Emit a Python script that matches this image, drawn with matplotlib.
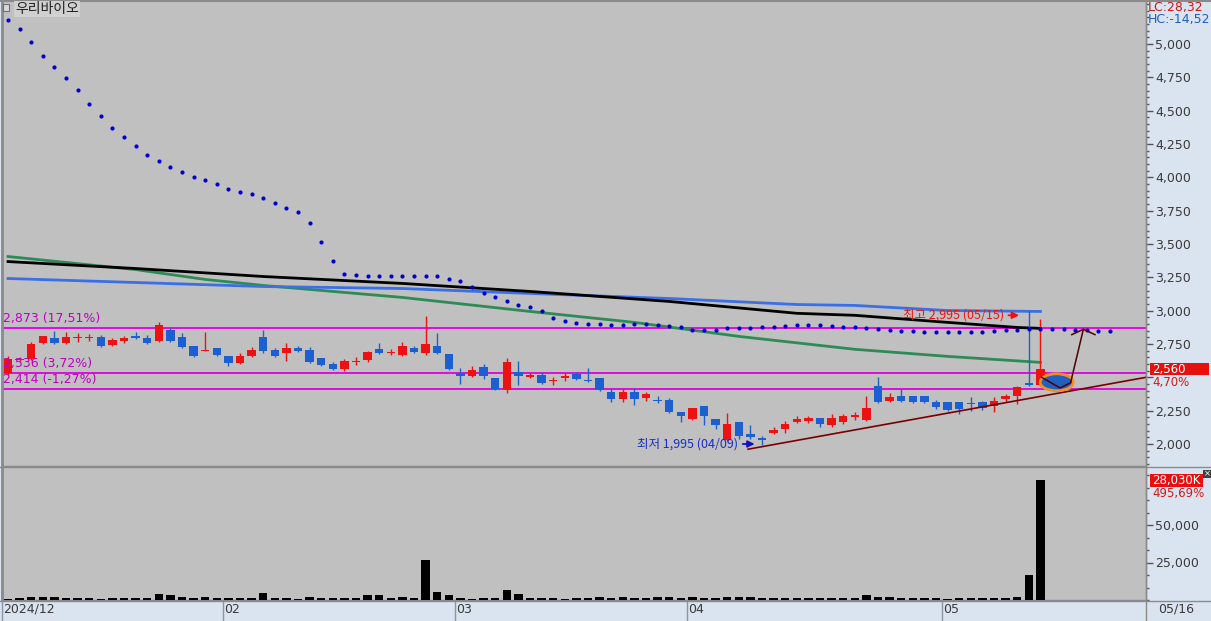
import matplotlib
matplotlib.use('Agg')
import matplotlib.pyplot as plt
import matplotlib.transforms as mtransforms
from matplotlib.patches import Rectangle, Ellipse
from matplotlib.ticker import MultipleLocator, FuncFormatter, FixedLocator
import numpy as np

# ---------------- data ----------------
title = '우리바이오'
month_labels = ['2024/12', '02', '03', '04', '05']
month_first_idx = [0, 19, 39, 59, 81]
last_date_label = '05/16'

opens = [2530, 2630, 2635, 2754, 2792, 2754, 2795, 2795, 2799, 2739,
         2769, 2807, 2792, 2769, 2852, 2799, 2732, 2700, 2717, 2657,
         2605, 2657, 2799, 2702, 2680, 2717, 2702, 2642, 2597, 2560,
         2617, 2627, 2710, 2685, 2665, 2717, 2680, 2732, 2672, 2530,
         2507, 2575, 2493, 2403, 2537, 2500, 2515, 2475, 2493, 2522,
         2478, 2493, 2388, 2335, 2388, 2343, 2330, 2328, 2238, 2186,
         2283, 2186, 2028, 2163, 2073, 2040, 2081, 2111, 2163, 2171,
         2193, 2141, 2163, 2201, 2178, 2433, 2320, 2358, 2358, 2358,
         2313, 2313, 2313, 2307, 2313, 2283, 2335, 2358, 2455, 2440]
highs = [2657, 2650, 2762, 2810, 2844, 2837, 2829, 2822, 2814, 2792,
         2807, 2837, 2814, 2912, 2867, 2829, 2735, 2837, 2720, 2660,
         2680, 2725, 2852, 2717, 2754, 2732, 2725, 2645, 2612, 2635,
         2650, 2695, 2754, 2710, 2762, 2732, 2957, 2829, 2675, 2567,
         2582, 2597, 2495, 2642, 2620, 2530, 2537, 2500, 2530, 2537,
         2567, 2495, 2418, 2410, 2418, 2388, 2358, 2343, 2240, 2272,
         2285, 2190, 2231, 2165, 2141, 2058, 2126, 2171, 2208, 2208,
         2198, 2223, 2223, 2238, 2358, 2500, 2380, 2410, 2362, 2362,
         2328, 2316, 2316, 2350, 2320, 2350, 2373, 2433, 2995, 2934]
lows = [2515, 2620, 2630, 2747, 2750, 2750, 2762, 2769, 2728, 2735,
        2754, 2784, 2747, 2762, 2762, 2720, 2655, 2700, 2660, 2582,
        2600, 2655, 2680, 2655, 2620, 2690, 2610, 2585, 2555, 2545,
        2590, 2612, 2672, 2665, 2660, 2685, 2665, 2675, 2555, 2448,
        2500, 2485, 2405, 2380, 2440, 2493, 2450, 2440, 2470, 2478,
        2465, 2395, 2313, 2313, 2290, 2320, 2305, 2235, 2163, 2180,
        2141, 2111, 2025, 2036, 2036, 1995, 2078, 2081, 2156, 2156,
        2126, 2126, 2148, 2178, 2175, 2310, 2313, 2315, 2310, 2308,
        2260, 2250, 2223, 2246, 2253, 2238, 2313, 2298, 2435, 2435]
closes = [2635, 2640, 2747, 2807, 2754, 2799, 2800, 2800, 2732, 2777,
          2792, 2792, 2754, 2889, 2769, 2725, 2657, 2705, 2665, 2605,
          2657, 2702, 2695, 2657, 2717, 2695, 2612, 2590, 2560, 2620,
          2622, 2687, 2680, 2690, 2732, 2687, 2747, 2680, 2560, 2507,
          2552, 2507, 2410, 2612, 2507, 2515, 2455, 2480, 2507, 2485,
          2470, 2403, 2335, 2388, 2335, 2373, 2325, 2238, 2208, 2268,
          2208, 2141, 2148, 2058, 2051, 2036, 2103, 2148, 2186, 2193,
          2148, 2193, 2208, 2216, 2268, 2313, 2350, 2320, 2313, 2313,
          2275, 2253, 2260, 2303, 2268, 2320, 2358, 2425, 2445, 2560]
volumes = [900, 1560, 2200, 2200, 2200, 1560, 1560, 1560, 900, 1100,
           1560, 1560, 1560, 3800, 3100, 2200, 1560, 2200, 1560, 1560,
           1560, 1560, 4400, 1560, 1560, 900, 2200, 1560, 1560, 1560,
           1560, 3100, 3300, 1560, 2200, 1560, 26500, 5300, 3100, 1560,
           900, 1560, 1560, 6700, 3800, 1560, 1560, 1560, 900, 1560,
           1560, 1800, 1100, 1800, 1100, 1100, 1800, 1800, 1100, 1800,
           1100, 1100, 1800, 1800, 1800, 1100, 1100, 1100, 1100, 1100,
           1100, 1100, 1100, 1100, 3300, 1800, 1800, 1100, 1100, 1100,
           1100, 700, 1100, 1100, 1100, 1100, 1100, 1800, 16400, 79800]

# parabolic-SAR style dots (extend 6 sessions past the last candle)
sar = [5180, 5112, 5015, 4910, 4828, 4746, 4656, 4551, 4461, 4371,
       4304, 4237, 4169, 4124, 4079, 4042, 4004, 3982, 3952, 3915,
       3892, 3877, 3847, 3810, 3772, 3743, 3660, 3518, 3376, 3278,
       3271, 3263, 3263, 3263, 3263, 3263, 3263, 3263, 3234, 3219,
       3174, 3136, 3106, 3069, 3046, 3024, 2994, 2942, 2919, 2904,
       2897, 2897, 2889, 2889, 2897, 2897, 2889, 2882, 2874, 2852,
       2852, 2852, 2867, 2867, 2867, 2874, 2874, 2882, 2889, 2889,
       2889, 2882, 2874, 2874, 2867, 2859, 2852, 2844, 2844, 2837,
       2837, 2837, 2837, 2837, 2837, 2844, 2852, 2852, 2859, 2859,
       2859, 2859, 2852, 2852, 2844, 2844]

# moving averages read at sample sessions
ma_black_idx = [0, 11, 22, 34, 45, 57, 68, 73, 81, 87, 89]
ma_black = [3368, 3316, 3256, 3204, 3144, 3069, 2980, 2965, 2912, 2874, 2867]
ma_blue_idx = [0, 11, 22, 34, 45, 57, 68, 73, 81, 89]
ma_blue = [3241, 3211, 3181, 3166, 3129, 3091, 3046, 3039, 3001, 2994]
ma_green_idx = [0, 11, 17, 22, 28, 34, 45, 54, 63, 73, 81, 89]
ma_green = [3406, 3308, 3234, 3189, 3144, 3099, 2994, 2912, 2807, 2710, 2657, 2612]

levels = [2873, 2536, 2414]
level_pct = ['17,51%', '3,72%', '-1,27%']

high_idx, high_val, high_date = 88, 2995, '05/15'
low_idx, low_val, low_date = 65, 1995, '04/09'

trend_x = [63.8, 98.1]
trend_y = [1961, 2500]

last_price_txt = '2,560'
last_pct_txt = '4,70%'
last_vol_txt = '28,030K'
last_vol_pct_txt = '495,69%'
lc_txt = 'LC:28,32'
hc_txt = 'HC:-14,52'

price_ticks = list(range(2000, 5001, 250))
price_ticks_hidden = [2500]   # covered by the last-price box in the reference

# ---------------- figure ----------------
W, H = 1211, 621
BG = '#c0c0c0'
AXBG = '#dae4f0'
RED = '#ee1111'
BLUE = '#1b5fd2'
KR = ['Noto Sans CJK KR', 'DejaVu Sans']

fig = plt.figure(figsize=(W / 100, H / 100), dpi=100, facecolor=AXBG)


def rect(x0, y0, x1, y1):
    return [x0 / W, 1 - y1 / H, (x1 - x0) / W, (y1 - y0) / H]


ax = fig.add_axes(rect(2, 1, 1146, 466), facecolor=BG)
axv = fig.add_axes(rect(2, 468, 1146, 600), facecolor=BG, sharex=ax)

n = len(closes)
idx = np.arange(n)
ax.set_xlim(-0.52, 98.1)
ax.set_ylim(1835, 5322)
axv.set_ylim(0, 88000)

for a in (ax, axv):
    for s in a.spines.values():
        s.set_color('#8a8a8a')
        s.set_linewidth(1)
    a.spines['top'].set_visible(False)
    a.spines['left'].set_linewidth(2)
    a.yaxis.tick_right()
    a.tick_params(axis='y', which='major', length=5, width=1, pad=1.5,
                  labelsize=9, colors='#555555', labelcolor='#3a3a3a')
    a.tick_params(axis='y', which='minor', length=2.5, width=1, colors='#555555')
    a.tick_params(axis='x', which='both', bottom=False, labelbottom=False)


def price_fmt(v, p):
    v = int(round(v))
    return '' if v in price_ticks_hidden else f'{v:,}'


ax.yaxis.set_major_locator(FixedLocator(price_ticks))
ax.yaxis.set_minor_locator(MultipleLocator(50))
ax.yaxis.set_major_formatter(FuncFormatter(price_fmt))
axv.yaxis.set_major_locator(FixedLocator([25000, 50000]))
axv.yaxis.set_minor_locator(MultipleLocator(25000 / 3))
axv.yaxis.set_major_formatter(FuncFormatter(lambda v, p: f'{int(round(v)):,}'))

# candles
for i in range(n):
    o, h, l, c = opens[i], highs[i], lows[i], closes[i]
    col = RED if c >= o else BLUE
    ax.vlines(i, l, h, color=col, lw=1, zorder=4)
    lo, hi = min(o, c), max(o, c)
    if hi - lo < 9:
        mid = (lo + hi) / 2
        lo, hi = mid - 4.5, mid + 4.5
    ax.add_patch(Rectangle((i - 0.36, lo), 0.72, hi - lo, facecolor=col,
                           edgecolor='none', zorder=5))

# moving averages
ax.plot(ma_green_idx, ma_green, color='#2e8b57', lw=2, zorder=3)
ax.plot(ma_blue_idx, ma_blue, color='#3a6fe8', lw=2, zorder=3)
ax.plot(ma_black_idx, ma_black, color='black', lw=2, zorder=3)

# SAR dots
ax.scatter(np.arange(len(sar)), sar, s=9, color='#0000cc', zorder=6, linewidths=0)

# horizontal levels
for v, pct in zip(levels, level_pct):
    ax.axhline(v, color='#e000e0', lw=1.3, zorder=2)
    ax.annotate(f'{v:,} ({pct})', xy=(-0.45, v), xytext=(0, 2),
                textcoords='offset points', va='bottom', ha='left',
                fontsize=9, color='#c000c0', zorder=7)

# trend line
ax.plot(trend_x, trend_y, color='#7a0000', lw=1.2, zorder=6)

# ellipse and zig-zag drawing
ax.add_patch(Ellipse((90.4, 2463), 2.85, 127, facecolor='#2060c0',
                     edgecolor='#f09020', lw=2, zorder=7))
ax.plot([89.1, 90.7, 91.6, 92.7, 93.7], [2500, 2420, 2460, 2860, 2820],
        color='#500000', lw=1.1, zorder=8)
ax.plot([91.7, 92.7], [2820, 2860], color='#500000', lw=1.1, zorder=8)

# high / low annotations
ax.annotate('', xy=(high_idx - 0.6, high_val - 30), xytext=(high_idx - 2.0, high_val - 30),
            arrowprops=dict(arrowstyle='-|>', color=RED, lw=1.3, mutation_scale=10), zorder=8)
ax.text(high_idx - 2.15, high_val - 30, f'최고 {high_val:,} ({high_date})', ha='right',
        va='center', fontsize=9, color=RED, family=KR, zorder=8)
ax.annotate('', xy=(low_idx - 0.4, low_val + 5), xytext=(low_idx - 1.9, low_val + 5),
            arrowprops=dict(arrowstyle='-|>', color='#1010c0', lw=1.3, mutation_scale=10), zorder=8)
ax.text(low_idx - 2.05, low_val + 5, f'최저 {low_val:,} ({low_date})', ha='right',
        va='center', fontsize=9, color='#1830c8', family=KR, zorder=8)

# volume
axv.bar(idx, volumes, width=0.72, color='black', zorder=3)

# date strip labels
bt = mtransforms.blended_transform_factory(axv.transData, axv.transAxes)
for lab, i0 in zip(month_labels, month_first_idx):
    x = i0 - 0.5
    axv.plot([x, x], [0, -0.16], transform=bt, clip_on=False, color='#8a96a6', lw=1)
    axv.text(x + 0.12, -0.07, lab, transform=bt, ha='left', va='center',
             fontsize=9, color='#3a3a3a', clip_on=False)

fig.text(1158 / W, 1 - 609 / H, last_date_label, ha='left', va='center',
         fontsize=9, color='#3a3a3a')

# frame lines across the figure
for yy in (467, 601):
    fig.add_artist(plt.Line2D([0, 1], [1 - yy / H] * 2, color='#8a8a8a', lw=1))
fig.add_artist(plt.Line2D([1146 / W] * 2, [0, 1], color='#8a8a8a', lw=1))
fig.add_artist(plt.Line2D([0, 1], [1 - 0.5 / H] * 2, color='#8a8a8a', lw=1.5))

# right side value boxes
tp = mtransforms.blended_transform_factory(fig.transFigure, ax.transData)
ax.add_patch(Rectangle((1150 / W, closes[-1] - 45), 59 / W, 92, transform=tp,
                       facecolor='#e8100c', edgecolor='none', clip_on=False, zorder=9))
ax.text(1152 / W, closes[-1], last_price_txt, transform=tp, ha='left', va='center',
        fontsize=8.5, color='white', clip_on=False, zorder=10)
ax.text(1152 / W, closes[-1] - 100, last_pct_txt, transform=tp, ha='left', va='center',
        fontsize=8.5, color='#d01818', clip_on=False, zorder=10)

tv = mtransforms.blended_transform_factory(fig.transFigure, axv.transData)
axv.add_patch(Rectangle((1150 / W, volumes[-1] - 4400), 53 / W, 8800, transform=tv,
                        facecolor='#e8100c', edgecolor='none', clip_on=False, zorder=9))
axv.text(1152 / W, volumes[-1], last_vol_txt, transform=tv, ha='left', va='center',
         fontsize=8.5, color='white', clip_on=False, zorder=10)
axv.text(1152 / W, volumes[-1] - 8600, last_vol_pct_txt, transform=tv, ha='left', va='center',
         fontsize=8.5, color='#d01818', clip_on=False, zorder=10)
fig.add_artist(Rectangle((1203 / W, 1 - 478 / H), 8 / W, 8 / H, transform=fig.transFigure,
                         facecolor='#404040', edgecolor='none'))
fig.text(1207 / W, 1 - 474 / H, '×', ha='center', va='center', fontsize=6, color='white')

# title and LC/HC
fig.add_artist(Rectangle((3 / W, 1 - 11 / H), 6 / W, 7 / H, transform=fig.transFigure,
                         facecolor='#d8d8d8', edgecolor='#707070', lw=0.8))
fig.text(15 / W, 1 - 9 / H, title, ha='left', va='center', fontsize=10, family=KR,
         color='#202020',
         bbox=dict(boxstyle='square,pad=0.1', facecolor='#d0d0d0', edgecolor='none'))
fig.text(1148 / W, 1 - 8 / H, lc_txt, ha='left', va='center', fontsize=9, color='#d01818')
fig.text(1148 / W, 1 - 19 / H, hc_txt, ha='left', va='center', fontsize=9, color='#1e5ec8')

fig.savefig('out.png', dpi=100, facecolor=AXBG)
